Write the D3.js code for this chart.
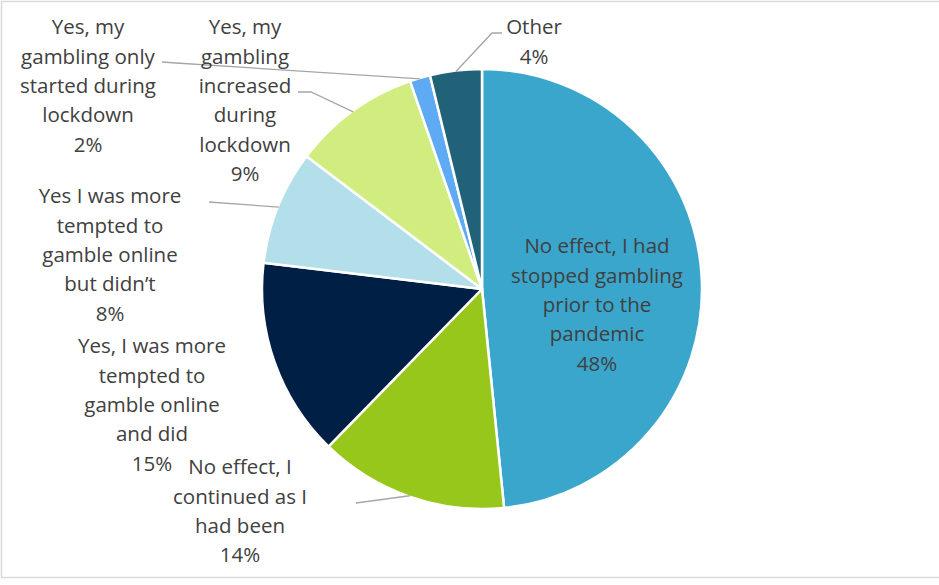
<html>
<head>
<script src="https://d3js.org/d3.v7.min.js"></script>
<style>
  body { margin: 0; background: #fff; }
</style>
</head>
<body>
<div id="output"></div>
<script>
    // data (clockwise from 12 o'clock)
    var categories = [
        "No effect, I had stopped gambling prior to the pandemic",
        "No effect, I continued as I had been",
        "Yes, I was more tempted to gamble online and did",
        "Yes I was more tempted to gamble online but didn\u2019t",
        "Yes, my gambling increased during lockdown",
        "Yes, my gambling only started during lockdown",
        "Other"
    ];
    var values = [48.4, 13.9, 14.6, 8.4, 9.4, 1.5, 3.8];
    var labelLines = [
        ["No effect, I had", "stopped gambling", "prior to the", "pandemic"],
        ["No effect, I", "continued as I", "had been"],
        ["Yes, I was more", "tempted to", "gamble online", "and did"],
        ["Yes I was more", "tempted to", "gamble online", "but didn\u2019t"],
        ["Yes, my", "gambling", "increased", "during", "lockdown"],
        ["Yes, my", "gambling only", "started during", "lockdown"],
        ["Other"]
    ];
    var colors = ['#3aa6cc', '#97c71a', '#001f45', '#b3dfeb', '#d1ed80', '#5eaaf5', '#216278'];

    // layout: label centre x, first line y, leader elbow (null = no leader)
    var labelPos = [
        {x: 597, y: 246, leader: null},
        {x: 240, y: 467, leader: [[356, 503]]},
        {x: 152, y: 346, leader: null},
        {x: 110, y: 196, leader: [[209, 202]]},
        {x: 245, y: 27,  leader: [[298, 92], [311, 92]]},
        {x: 88,  y: 27,  leader: [[162, 62], [176, 63]]},
        {x: 534, y: 27,  leader: [[502, 33], [492, 33]]}
    ];

    var width = 939, height = 585;
    var cx = 482, cy = 289, radius = 220;
    var lineH = 29.3;
    var text_color = '#404040';
    var leader_color = '#a6a6a6';

    var svg = d3.select("#output").append("svg")
            .attr("width", width)
            .attr("height", height);

    // chart frame
    svg.append('rect')
        .attr('x', 1.5).attr('y', 1.5)
        .attr('width', width + 10).attr('height', 576)
        .attr('fill', 'white')
        .attr('stroke', '#d9d9d9')
        .attr('stroke-width', 1.5);

    var pie = d3.pie().sort(null).value(d => d);
    var arcs = pie(values);
    var arc = d3.arc().innerRadius(0).outerRadius(radius);

    var g = svg.append('g').attr('transform', 'translate(' + cx + ',' + cy + ')');

    g.selectAll('path.slice')
        .data(arcs)
        .enter().append('path')
        .attr('class', 'slice')
        .attr('d', arc)
        .attr('fill', (d, i) => colors[i])
        .attr('stroke', 'white')
        .attr('stroke-width', 2.5)
        .attr('stroke-linejoin', 'round');

    // leader lines: from the slice edge (mid angle) to the label
    var edge = function(d) {
        var a = (d.startAngle + d.endAngle) / 2;
        return [cx + Math.sin(a) * (radius - 1), cy - Math.cos(a) * (radius - 1)];
    };
    arcs.forEach((d, i) => {
        var lp = labelPos[i];
        if (!lp.leader) return;
        var pts = [edge(d)].concat(lp.leader.slice().reverse());
        svg.append('path')
            .attr('d', d3.line()(pts))
            .attr('fill', 'none')
            .attr('stroke', leader_color)
            .attr('stroke-width', 1.3);
    });

    // labels
    arcs.forEach((d, i) => {
        var lp = labelPos[i];
        var lines = labelLines[i].concat([Math.round(values[i]) + '%']);
        var t = svg.append('text')
            .attr('text-anchor', 'middle')
            .attr('font-family', '"Open Sans", "Liberation Sans", sans-serif')
            .attr('font-size', '20.5px')
            .attr('fill', text_color);
        lines.forEach((ln, k) => {
            t.append('tspan')
                .attr('x', lp.x)
                .attr('y', lp.y + k * lineH)
                .attr('dy', '0.36em')
                .text(ln);
        });
    });
</script>
</body>
</html>
